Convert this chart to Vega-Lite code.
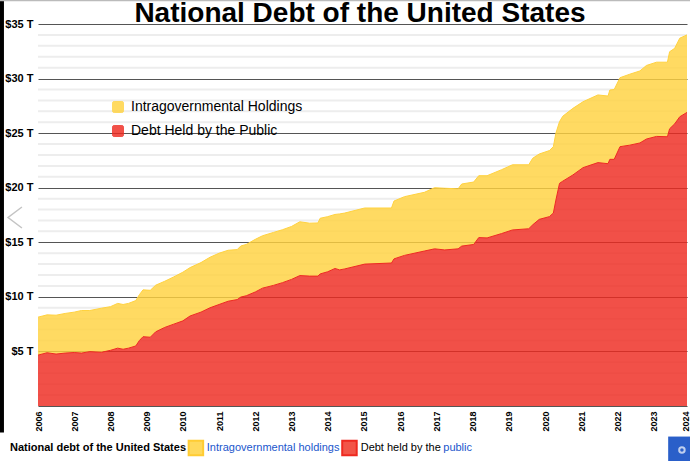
{"$schema":"https://vega.github.io/schema/vega-lite/v6.json","width":649,"height":382,"autosize":{"type":"none"},"padding":{"left":38,"top":24,"right":3,"bottom":55},"background":"white","view":{"stroke":null},
"config":{"font":"Liberation Sans"},
"resolve":{"axis":{"x":"independent","y":"independent"}},
"datasets":{"debt":[
{"year":2006.0,"public":4.66,"total":8.14},{"year":2006.25,"public":4.88,"total":8.35},{"year":2006.5,"public":4.76,"total":8.32},{"year":2006.75,"public":4.85,"total":8.48},{"year":2007.0,"public":4.9,"total":8.6},{"year":2007.2,"public":4.85,"total":8.75},{"year":2007.43,"public":4.98,"total":8.75},{"year":2007.75,"public":4.92,"total":8.96},{"year":2008.0,"public":5.1,"total":9.1},{"year":2008.2,"public":5.3,"total":9.4},{"year":2008.35,"public":5.2,"total":9.3},{"year":2008.5,"public":5.3,"total":9.4},{"year":2008.7,"public":5.5,"total":9.66},{"year":2008.8,"public":6.0,"total":10.2},{"year":2008.9,"public":6.35,"total":10.64},{"year":2009.1,"public":6.3,"total":10.6},{"year":2009.25,"public":6.8,"total":11.07},{"year":2009.5,"public":7.2,"total":11.43},{"year":2009.75,"public":7.5,"total":11.83},{"year":2010.0,"public":7.8,"total":12.26},{"year":2010.2,"public":8.25,"total":12.68},{"year":2010.5,"public":8.6,"total":13.14},{"year":2010.75,"public":9.0,"total":13.63},{"year":2011.0,"public":9.3,"total":14.0},{"year":2011.25,"public":9.6,"total":14.27},{"year":2011.5,"public":9.75,"total":14.33},{"year":2011.6,"public":9.98,"total":14.66},{"year":2011.75,"public":10.1,"total":14.8},{"year":2012.0,"public":10.45,"total":15.27},{"year":2012.2,"public":10.8,"total":15.6},{"year":2012.5,"public":11.05,"total":15.9},{"year":2012.75,"public":11.3,"total":16.15},{"year":2013.0,"public":11.6,"total":16.45},{"year":2013.23,"public":11.95,"total":16.88},{"year":2013.5,"public":11.9,"total":16.75},{"year":2013.73,"public":11.9,"total":16.77},{"year":2013.79,"public":12.1,"total":17.2},{"year":2014.0,"public":12.3,"total":17.35},{"year":2014.2,"public":12.6,"total":17.55},{"year":2014.33,"public":12.47,"total":17.6},{"year":2014.47,"public":12.56,"total":17.68},{"year":2015.02,"public":13.0,"total":18.14},{"year":2015.76,"public":13.1,"total":18.14},{"year":2015.83,"public":13.48,"total":18.78},{"year":2016.12,"public":13.8,"total":19.18},{"year":2016.67,"public":14.2,"total":19.58},{"year":2016.95,"public":14.4,"total":20.0},{"year":2017.23,"public":14.3,"total":19.95},{"year":2017.6,"public":14.4,"total":19.9},{"year":2017.7,"public":14.65,"total":20.34},{"year":2018.03,"public":14.8,"total":20.52},{"year":2018.17,"public":15.43,"total":21.1},{"year":2018.4,"public":15.4,"total":21.1},{"year":2018.8,"public":15.8,"total":21.65},{"year":2019.1,"public":16.13,"total":22.1},{"year":2019.55,"public":16.24,"total":22.1},{"year":2019.66,"public":16.6,"total":22.7},{"year":2019.84,"public":17.1,"total":23.09},{"year":2020.12,"public":17.35,"total":23.4},{"year":2020.23,"public":17.68,"total":23.76},{"year":2020.3,"public":18.87,"total":25.0},{"year":2020.4,"public":20.4,"total":26.05},{"year":2020.49,"public":20.6,"total":26.55},{"year":2020.77,"public":21.17,"total":27.27},{"year":2021.05,"public":21.84,"total":27.88},{"year":2021.46,"public":22.3,"total":28.5},{"year":2021.74,"public":22.2,"total":28.4},{"year":2021.79,"public":22.6,"total":28.95},{"year":2021.91,"public":22.6,"total":29.0},{"year":2022.07,"public":23.76,"total":30.08},{"year":2022.34,"public":23.9,"total":30.4},{"year":2022.62,"public":24.1,"total":30.7},{"year":2022.8,"public":24.46,"total":31.2},{"year":2023.08,"public":24.7,"total":31.5},{"year":2023.38,"public":24.67,"total":31.5},{"year":2023.44,"public":25.4,"total":32.46},{"year":2023.58,"public":25.85,"total":32.77},{"year":2023.72,"public":26.5,"total":33.7},{"year":2023.92,"public":26.9,"total":34.0}
]},
"layer":[
{"data":{"values":[{"v":1},{"v":2},{"v":3},{"v":4},{"v":6},{"v":7},{"v":8},{"v":9},{"v":11},{"v":12},{"v":13},{"v":14},{"v":16},{"v":17},{"v":18},{"v":19},{"v":21},{"v":22},{"v":23},{"v":24},{"v":26},{"v":27},{"v":28},{"v":29},{"v":31},{"v":32},{"v":33},{"v":34}]},"mark":{"type":"rule","color":"#ededed","strokeWidth":2},"encoding":{"y":{"field":"v","type":"quantitative","title":null,"scale":{"domain":[0,35],"nice":false},"axis":{"orient":"left","values":[5,10,15,20,25,30,35],"labelExpr":"'$'+datum.value+' T'","ticks":false,"domain":false,"grid":true,"gridColor":"#555","gridWidth":1,"labelFontSize":11,"labelFontWeight":"bold","labelColor":"#000","labelPadding":5,"labelOverlap":false}}}},
{"data":{"name":"debt"},"mark":{"type":"area","fillOpacity":0.82,"line":{"strokeWidth":1}},
"encoding":{
"x":{"field":"year","type":"quantitative","title":null,"scale":{"domain":[2006,2023.92],"nice":false,"zero":false},"axis":{"orient":"bottom","values":[2006,2007,2008,2009,2010,2011,2012,2013,2014,2015,2016,2017,2018,2019,2020,2021,2022,2023],"format":"d","grid":false,"ticks":false,"domainColor":"#555","labelAngle":-90,"labelAlign":"right","labelBaseline":"middle","labelFontSize":9,"labelFontWeight":"bold","labelColor":"#000","labelPadding":5,"labelOverlap":false,"labelBound":false,"labelFlush":false}},
"y":{"field":"total","type":"quantitative","axis":null},
"y2":{"field":"public"},
"color":{"datum":"Intragovernmental Holdings","scale":{"domain":["Intragovernmental Holdings","Debt Held by the Public"],"range":["#FFD23F","#EE2A20"]},"legend":{"title":null,"orient":"none","legendX":73,"legendY":76,"labelFontSize":14,"labelColor":"#000","labelLimit":260,"rowPadding":8,"labelOffset":6,"symbolType":"M-1,-0.7Q-1,-1 -0.7,-1L0.7,-1Q1,-1 1,-0.7L1,0.7Q1,1 0.7,1L-0.7,1Q-1,1 -1,0.7Z","symbolSize":121,"symbolStrokeWidth":1,"symbolOpacity":0.82}}}},
{"data":{"name":"debt"},"mark":{"type":"area","fillOpacity":0.82,"line":{"strokeWidth":1}},
"encoding":{
"x":{"field":"year","type":"quantitative","axis":null},
"y":{"field":"public","type":"quantitative","axis":null},
"y2":{"datum":0},
"color":{"datum":"Debt Held by the Public"}}},
{"data":{"values":[{"label":"2024","x":2023.88}]},"mark":{"type":"text","angle":270,"align":"right","baseline":"middle","fontSize":9,"fontWeight":"bold","color":"#000"},"encoding":{"x":{"field":"x","type":"quantitative","axis":null},"y":{"datum":-0.5,"axis":null},"text":{"field":"label"}}},
{"data":{"values":[{"a":1}]},"mark":{"type":"rect","color":"#000"},"encoding":{"x":{"datum":2004.95,"axis":null},"x2":{"datum":2005.06},"y":{"datum":37.2,"axis":null},"y2":{"datum":-2.43}}},
{"data":{"values":[{"a":1}]},"mark":{"type":"rect","color":"#bbbbbb"},"encoding":{"x":{"datum":2004.95,"axis":null},"x2":{"datum":2024.1},"y":{"datum":37.2,"axis":null},"y2":{"datum":37.08}}},
{"data":{"values":[{"a":1}]},"mark":{"type":"rect","color":"#2a5fc9"},"encoding":{"x":{"datum":2023.4,"axis":null},"x2":{"datum":2024.1},"y":{"datum":-2.8,"axis":null},"y2":{"datum":-5.2}}},
{"data":{"values":[{"a":1}]},"mark":{"type":"point","shape":"circle","filled":false,"color":"#ffffff","strokeWidth":2,"size":30},"encoding":{"x":{"datum":2023.78,"axis":null},"y":{"datum":-4.03,"axis":null}}},
{"data":{"values":[{"a":1}]},"mark":{"type":"point","shape":"M0.33,-0.5L-0.33,0L0.33,0.5","filled":false,"color":"#c4c4c4","opacity":1,"strokeWidth":1.5,"size":1764},"encoding":{"x":{"datum":2005.365,"axis":null},"y":{"datum":17.27,"axis":null}}},
{"data":{"values":[{"label":"National Debt of the United States","x":2014.89}]},"mark":{"type":"text","align":"center","baseline":"alphabetic","fontSize":28,"fontWeight":"bold","color":"#000"},"encoding":{"x":{"field":"x","type":"quantitative","axis":null},"y":{"datum":35.14,"axis":null},"text":{"field":"label"}}},
{"data":{"values":[{"label":"National debt of the United States","x":2005.227}]},"mark":{"type":"text","align":"left","baseline":"middle","fontSize":11,"fontWeight":"bold","color":"#000"},"encoding":{"x":{"field":"x","type":"quantitative","axis":null},"y":{"datum":-3.85,"axis":null},"text":{"field":"label"}}},
{"data":{"values":[{"label":"Intragovernmental holdings","x":2010.66},{"label":"public","x":2017.19}]},"mark":{"type":"text","align":"left","baseline":"middle","fontSize":11,"color":"#1a56cc"},"encoding":{"x":{"field":"x","type":"quantitative","axis":null},"y":{"datum":-3.85,"axis":null},"text":{"field":"label"}}},
{"data":{"values":[{"label":"Debt held by the","x":2014.91}]},"mark":{"type":"text","align":"left","baseline":"middle","fontSize":11,"color":"#000"},"encoding":{"x":{"field":"x","type":"quantitative","axis":null},"y":{"datum":-3.85,"axis":null},"text":{"field":"label"}}},
{"data":{"values":[{"x":2010.36}]},"mark":{"type":"point","shape":"square","filled":true,"size":210,"color":"#FFD95C","opacity":1,"stroke":"#FFCC33"},"encoding":{"x":{"field":"x","type":"quantitative","axis":null},"y":{"datum":-3.85,"axis":null}}},
{"data":{"values":[{"x":2014.6}]},"mark":{"type":"point","shape":"square","filled":true,"size":210,"color":"#F25548","opacity":1,"stroke":"#EE2A20"},"encoding":{"x":{"field":"x","type":"quantitative","axis":null},"y":{"datum":-3.85,"axis":null}}}
]}
